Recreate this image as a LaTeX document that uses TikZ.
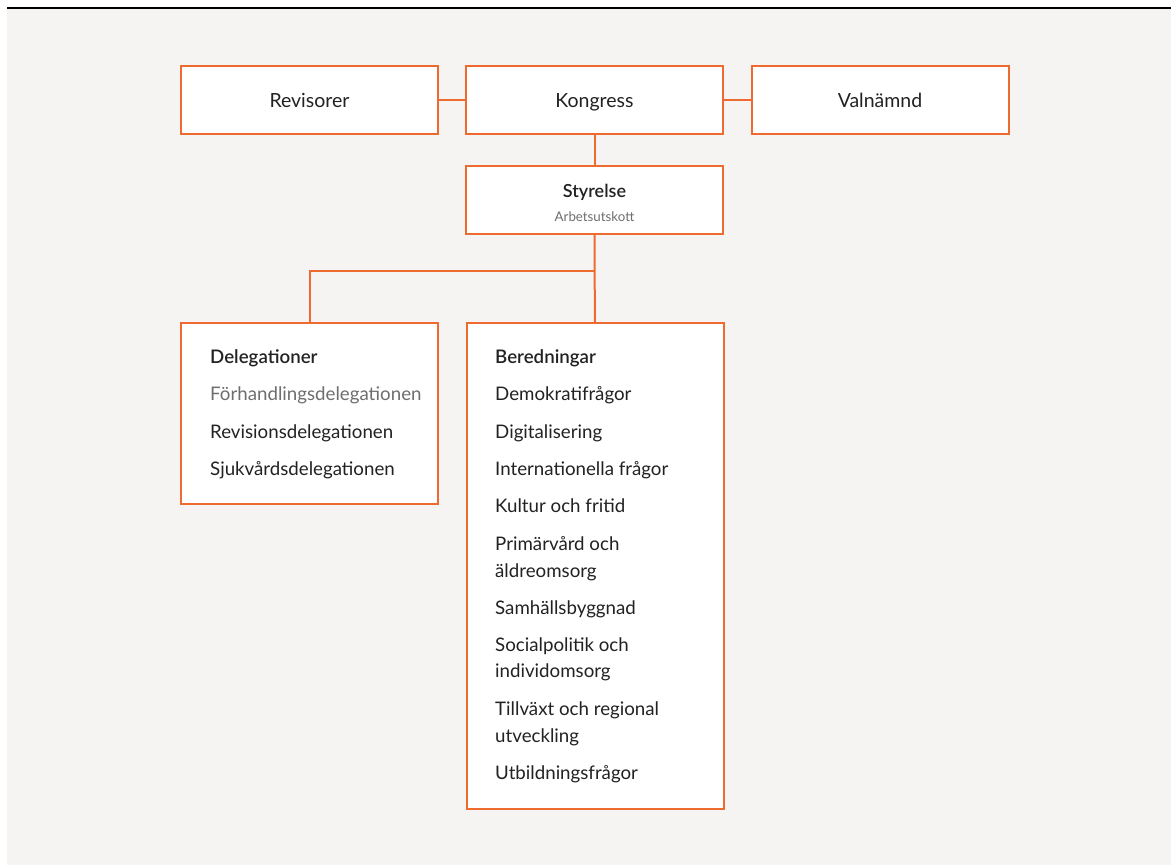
\documentclass[tikz,border=0pt]{standalone}
\usepackage{fontspec}
\setmainfont{Lato}[BoldFont={Lato Semibold}]
\definecolor{orgline}{HTML}{EE6A2E}
\definecolor{paper}{HTML}{F5F4F2}
\definecolor{txtdark}{HTML}{222222}
\definecolor{txtgrey}{HTML}{6E6E6E}
\tikzset{
  orgbox/.style={draw=orgline,fill=white,line width=2pt,minimum width=257pt,minimum height=68pt,inner sep=0pt,text=txtdark,font=\fontsize{19.5}{23}\selectfont},
  listbox/.style={orgbox,anchor=north west},
  item/.style={anchor=base west,inner sep=0pt,text=txtdark,font=\fontsize{18.7}{22}\selectfont},
  link/.style={draw=orgline,line width=2pt},
}
\begin{document}
\begin{tikzpicture}[x=1pt,y=-1pt]
        \useasboundingbox (0,0) rectangle (1171,865);
        \fill[paper] (7,8) rectangle (1171,865);
        \draw[line width=1.5pt,black] (7,8) -- (1171,8);
        % top row
        \node[orgbox,text height=16pt,text depth=2pt] (revis) at (309.5,100) {Revisorer};
        \node[orgbox,text height=16pt,text depth=2pt] (kongr) at (594.5,100) {Kongress};
        \node[orgbox,text height=16pt,text depth=2pt] (valn) at (880,100) {Valnämnd};
        \node[orgbox,align=center,font=\fontsize{18}{24}\selectfont] (styr) at (594.5,200) {\rule{0pt}{20pt}{\bfseries Styrelse}\\{\color{txtgrey}\fontsize{13.3}{16}\selectfont Arbetsutskott}};
        % lists
        \node[listbox,minimum height=181pt] (deleg) at (180,322) {};
        \node[listbox,minimum height=486pt] (bered) at (466,322) {};
        \coordinate (split) at (594.5,271);
        \draw[link] (revis) -- (kongr);
        \draw[link] (kongr) -- (valn);
        \draw[link] (kongr) -- (styr);
        \draw[link] (styr) -- (bered);
        \draw[link] (split) -| (deleg.north);
        \node[item] (dhead) at (210,363) {\bfseries Delegationer};
        \node[item,text=txtgrey] (d1) at (210,400) {Förhandlingsdelegationen};
        \foreach \t/\y [count=\i from 2] in {Revisionsdelegationen/438,Sjukvårdsdelegationen/475}
            \node[item] (d\i) at (210,\y) {\t};
        \node[item] (bhead) at (495,363) {\bfseries Beredningar};
        \foreach \t/\y [count=\i] in {Demokratifrågor/400,Digitalisering/438,Internationella frågor/475,Kultur och fritid/512,Primärvård och/550,äldreomsorg/577,Samhällsbyggnad/614,Socialpolitik och/651,individomsorg/677,Tillväxt och regional/715,utveckling/742,Utbildningsfrågor/779}
            \node[item] (b\i) at (495,\y) {\t};
    \end{tikzpicture}
\end{document}
